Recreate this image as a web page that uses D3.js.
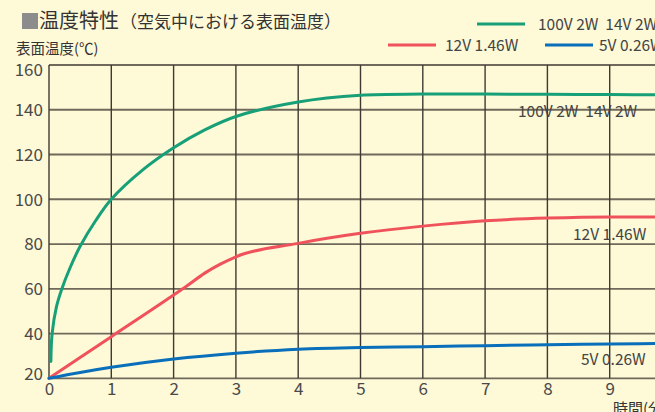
<!DOCTYPE html>
<html><head><meta charset="utf-8">
<script src="https://cdn.jsdelivr.net/npm/d3@7/dist/d3.min.js"></script>
<style>
html,body{margin:0;padding:0;background:#fef9d7;overflow:hidden}
text{font-family:"Noto Sans CJK JP","Noto Sans",sans-serif}
</style></head><body>
<svg id="c" width="655" height="412"></svg>
<script>
// ---- data ----
const xTicks = [0,1,2,3,4,5,6,7,8,9,10];
const yTicks = [20,40,60,80,100,120,140,160];

const greenTime = [0.03,0.05,0.12,0.2,0.34,0.5,0.75,1,1.5,2,2.5,3,4,5,6,7,8,9,10];
const greenTemp = [27.5,40,52,59.5,69.5,79,90.5,100,113,123,131,137,143.5,146.5,147,147,146.9,146.8,146.7];

const redTime = [0,1,2,2.2,2.5,2.75,3,4,5,6,7,8,9,10];
const redTemp = [20,38.6,57.2,61,67,71,74.3,80.3,84.8,88,90.4,91.6,92.1,92.1];

const blueTime = [0,0.5,1,2,3,4,5,6,7,8,9,10];
const blueTemp = [20,22.6,24.9,28.6,31.2,33,33.8,34.1,34.6,35,35.3,35.6];

const seriesNames = ["100V 2W  14V 2W","12V 1.46W","5V 0.26W"];
const seriesColors = ["#17a078","#f0525c","#0a6fbb"];

const titleMain = "温度特性";
const titleSub = "（空気中における表面温度）";
const yTitle = "表面温度(℃)";
const xTitle = "時間(分)";

// ---- drawing ----
const svg = d3.select("#c");
svg.append("rect").attr("width",655).attr("height",412).attr("fill","#fef9d7");

const x = d3.scaleLinear().domain([0,10]).range([49,672]);
const y = d3.scaleLinear().domain([20,160]).range([378.3,65]);

// grid
svg.append("g").selectAll("line").data(yTicks).join("line")
  .attr("x1",x(0)).attr("x2",655).attr("y1",d=>y(d)).attr("y2",d=>y(d))
  .attr("stroke","#6f695b").attr("stroke-width",1.8);
svg.append("g").selectAll("line").data(xTicks).join("line")
  .attr("x1",d=>x(d)).attr("x2",d=>x(d)).attr("y1",y(160)).attr("y2",y(20))
  .attr("stroke","#3e3a32").attr("stroke-width",1.4);

// axes tick labels
const yAxis = d3.axisLeft(y).tickValues(yTicks).tickSize(0).tickPadding(6);
const gy = svg.append("g").attr("transform",`translate(${x(0)},0)`).call(yAxis);
gy.select(".domain").remove();
gy.selectAll("text").attr("font-size",17).attr("fill","#4a4a4a")
  .attr("font-family",'"Noto Sans CJK JP",sans-serif')
  .attr("dy",d=> d===160 ? "0.62em" : d===20 ? "0.05em" : "0.35em");

const xAxis = d3.axisBottom(x).tickValues(xTicks).tickSize(0).tickPadding(5);
const gx = svg.append("g").attr("transform",`translate(0,${y(20)})`).call(xAxis);
gx.select(".domain").remove();
gx.selectAll("text").attr("font-size",17).attr("fill","#4a4a4a")
  .attr("font-family",'"Noto Sans CJK JP",sans-serif');

// curves
const curves = [d3.curveCatmullRom.alpha(0.5), d3.curveMonotoneX, d3.curveMonotoneX];
const series = [
  d3.zip(greenTime,greenTemp),
  d3.zip(redTime,redTemp),
  d3.zip(blueTime,blueTemp)
];
series.forEach((s,i)=>{
  const line = d3.line().x(d=>x(d[0])).y(d=>y(d[1])).curve(curves[i]);
  svg.append("path").datum(s).attr("d",line).attr("fill","none")
    .attr("stroke",seriesColors[i]).attr("stroke-width",3).attr("stroke-linecap","round");
});

// inline labels
const inl = [[518,117],[573,240],[581,365]];
seriesNames.forEach((n,i)=>{
  svg.append("text").attr("x",inl[i][0]).attr("y",inl[i][1]).text(n)
    .attr("font-size",15.5).attr("fill","#444").style("white-space","pre");
});

// title
svg.append("rect").attr("x",22).attr("y",13).attr("width",16).attr("height",16).attr("fill","#8c8c8c");
const t = svg.append("text").attr("x",39).attr("y",28).attr("fill","#333");
t.append("tspan").attr("font-size",20).text(titleMain);
t.append("tspan").attr("font-size",17).attr("dx",1).text(titleSub);

svg.append("text").attr("x",16).attr("y",54).attr("font-size",14.5).attr("fill","#333").text(yTitle);
svg.append("text").attr("x",613).attr("y",414).attr("font-size",15).attr("fill","#333").text(xTitle);

// legend
const leg = [[477,24,538],[388,45,445],[545,45,599]];
[0,1,2].forEach(i=>{
  const [lx,ly,tx] = leg[i];
  svg.append("line").attr("x1",lx).attr("x2",lx+48).attr("y1",ly).attr("y2",ly)
    .attr("stroke",seriesColors[i]).attr("stroke-width",3);
  svg.append("text").attr("x",tx).attr("y",ly+5.5).text(seriesNames[i])
    .attr("font-size",15.5).attr("fill","#444").style("white-space","pre");
});
</script>
</body></html>
